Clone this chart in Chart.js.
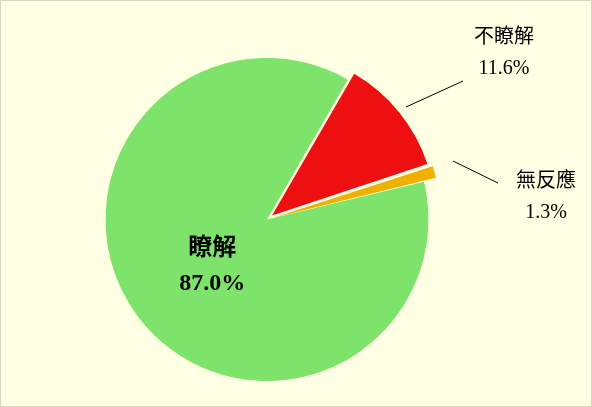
<!DOCTYPE html>
<html>
<head>
<meta charset="utf-8">
<script src="https://cdn.jsdelivr.net/npm/chart.js@4"></script>
<style>
  html, body { margin: 0; padding: 0; background: #fff; }
  #wrap { width: 590px; height: 405px; border: 1px solid #d8d8c0; background: #ffffe3; }
</style>
</head>
<body>
<div id="wrap"><canvas id="pie" width="590" height="405"></canvas></div>
<script>
const categories = ['不瞭解', '無反應', '瞭解'];
const values = [11.6, 1.3, 87.0];
const colors = ['#ee1010', '#f0b000', '#7de36a'];
const offsets = [26, 26, 0];

const canvas = document.getElementById('pie');
const ctx = canvas.getContext('2d');

// labels and leader lines
const labelPlugin = {
    id: 'labels',
    afterDatasetsDraw(chart) {
        const c = chart.ctx;
        const arcs = chart.getDatasetMeta(0).data;
        c.save();
        c.fillStyle = '#000';
        c.textAlign = 'center';
        c.textBaseline = 'middle';
        c.lineWidth = 1;
        c.strokeStyle = '#000';

        // inner label for the big slice
        const g = arcs[2].getCenterPoint();
        c.font = 'bold 24px "Noto Sans CJK TC", "Liberation Serif", serif';
        c.fillText(categories[2], g.x + 10, g.y - 22);
        c.font = 'bold 24px "Liberation Serif", serif';
        c.fillText(values[2].toFixed(1) + '%', g.x + 10, g.y + 16);

        // outer labels
        const outer = [
            { i: 0, lx: 503, ly: 34, from: [405, 106], to: [462, 80] },
            { i: 1, lx: 545, ly: 178, from: [452, 160], to: [497, 182] }
        ];
        outer.forEach(o => {
            c.beginPath();
            c.moveTo(o.from[0], o.from[1]);
            c.lineTo(o.to[0], o.to[1]);
            c.stroke();
            c.font = '20px "Noto Sans CJK TC", serif';
            c.fillText(categories[o.i], o.lx, o.ly);
            c.font = '20px "Liberation Serif", serif';
            c.fillText(values[o.i].toFixed(1) + '%', o.lx, o.ly + 34);
        });
        c.restore();
    }
};

new Chart(ctx, {
    type: 'pie',
    data: {
        labels: categories,
        datasets: [{
            data: values,
            backgroundColor: colors,
            borderWidth: 0,
            offset: offsets
        }]
    },
    options: {
        responsive: false,
        animation: false,
        rotation: 30,
        layout: { padding: { left: 72, right: 130, top: 44, bottom: 12 } },
        plugins: {
            legend: { display: false },
            tooltip: { enabled: false }
        }
    },
    plugins: [labelPlugin]
});
</script>
</body>
</html>
